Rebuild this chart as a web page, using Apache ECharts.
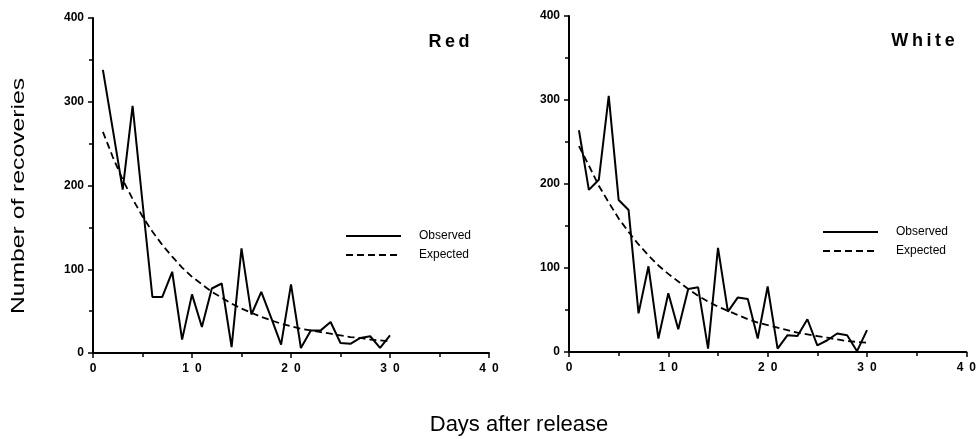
<!DOCTYPE html>
<html>
<head>
<meta charset="utf-8">
<script src="https://cdn.jsdelivr.net/npm/echarts@6/dist/echarts.min.js"></script>
<style>
  html, body { margin: 0; background: #fff; }
  #chart { width: 979px; height: 439px; }
</style>
</head>
<body>
<div id="chart"></div>
<script>
// days after release
const days = [1, 2, 3, 4, 5, 6, 7, 8, 9, 10, 11, 12, 13, 14, 15,
  16, 17, 18, 19, 20, 21, 22, 23, 24, 25, 26, 27, 28, 29, 30];

// Red tags
const redObserved = [338, 267, 195, 295, 180, 67, 67, 97, 16, 70, 31, 77, 83, 7, 125,
  46, 73, 42, 10, 82, 6, 27, 27, 37, 12, 11, 18, 20, 6, 21];
const redExpected = [264, 234, 207, 184, 163, 145, 129, 115, 102, 91, 82, 73, 66, 59, 53,
  48, 43, 39, 35, 32, 29, 27, 25, 23, 21, 19, 18, 16, 15, 14];

// White tags
const whiteObserved = [264, 193, 205, 305, 181, 169, 46, 102, 16, 70, 27, 75, 77, 4, 124,
  48, 65, 63, 16, 78, 4, 20, 19, 39, 8, 14, 22, 20, 1, 26];
const whiteExpected = [245, 222, 198, 178, 159, 143, 128, 115, 103, 93, 84, 75, 67, 60, 54,
  49, 44, 39, 35, 32, 29, 26, 23, 21, 19, 17, 15, 13, 12, 11];

const panelNames = ['Red', 'White'];
const legendNames = ['Observed', 'Expected'];

const pairs = (vals) => days.map((d, i) => [d, vals[i]]);

const font = 'Liberation Sans, Arial, Helvetica, sans-serif';

const xAxisBase = {
  type: 'value',
  min: 0,
  max: 40,
  interval: 10,
  splitLine: { show: false },
  axisLine: { onZero: false, lineStyle: { color: '#000', width: 2 } },
  axisTick: { length: 5, lineStyle: { color: '#000', width: 1.5 } },
  minorTick: { show: true, splitNumber: 2, length: 4, lineStyle: { color: '#000', width: 1.5 } },
  axisLabel: {
    margin: 10,
    color: '#000',
    fontFamily: font,
    fontWeight: 'bold',
    fontSize: 12,
    formatter: v => String(v).split('').join('\u2002')
  }
};

const yAxisBase = {
  type: 'value',
  min: 0,
  max: 400,
  interval: 100,
  splitLine: { show: false },
  axisLine: { show: true, onZero: false, lineStyle: { color: '#000', width: 2 } },
  axisTick: { show: true, length: 5, lineStyle: { color: '#000', width: 1.5 } },
  minorTick: { show: true, splitNumber: 2, length: 4, lineStyle: { color: '#000', width: 1.5 } },
  axisLabel: {
    margin: 9,
    color: '#000',
    fontFamily: font,
    fontWeight: 'bold',
    fontSize: 12
  }
};

const observedStyle = { color: '#000', width: 2, type: 'solid' };
const expectedStyle = { color: '#000', width: 1.8, type: [7, 4] };

const legendBase = {
  orient: 'vertical',
  data: legendNames,
  itemWidth: 55,
  itemHeight: 14,
  itemGap: 7,
  selectedMode: false,
  itemStyle: { opacity: 0 },
  textStyle: { color: '#000', fontFamily: font, fontSize: 12, padding: [0, 0, 0, 13] }
};

const chart = echarts.init(document.getElementById('chart'));

chart.setOption({
  animation: false,
  backgroundColor: '#fff',
  grid: [
    { left: 93, top: 18, width: 396, height: 335 },
    { left: 569, top: 16, width: 398, height: 336 }
  ],
  xAxis: [
    Object.assign({ gridIndex: 0 }, xAxisBase),
    Object.assign({ gridIndex: 1 }, xAxisBase)
  ],
  yAxis: [
    Object.assign({ gridIndex: 0 }, yAxisBase),
    Object.assign({ gridIndex: 1 }, yAxisBase)
  ],
  legend: [
    Object.assign({ left: 340, top: 225 }, legendBase),
    Object.assign({ left: 817, top: 221 }, legendBase)
  ],
  series: [
    { name: 'Observed', type: 'line', xAxisIndex: 0, yAxisIndex: 0, symbol: 'none',
      color: '#000', lineStyle: observedStyle, data: pairs(redObserved) },
    { name: 'Expected', type: 'line', xAxisIndex: 0, yAxisIndex: 0, symbol: 'none',
      color: '#000', lineStyle: expectedStyle, data: pairs(redExpected) },
    { name: 'Observed', type: 'line', xAxisIndex: 1, yAxisIndex: 1, symbol: 'none',
      color: '#000', lineStyle: observedStyle, data: pairs(whiteObserved) },
    { name: 'Expected', type: 'line', xAxisIndex: 1, yAxisIndex: 1, symbol: 'none',
      color: '#000', lineStyle: expectedStyle, data: pairs(whiteExpected) }
  ],
  graphic: [
    // panel titles, letter spaced like the original
    { type: 'text', x: 449, y: 42, style: { text: panelNames[0].split('').join('\u2009'),
      font: 'bold 18px ' + font, fill: '#000', align: 'center', verticalAlign: 'middle' } },
    { type: 'text', x: 923, y: 41, style: { text: panelNames[1].split('').join('\u2009'),
      font: 'bold 18px ' + font, fill: '#000', align: 'center', verticalAlign: 'middle' } },
    // shared axis titles
    { type: 'text', x: 19, y: 196, rotation: Math.PI / 2, scaleX: 1.3,
      style: { text: 'Number of recoveries', font: '19px ' + font, fill: '#000',
        align: 'center', verticalAlign: 'middle' } },
    { type: 'text', x: 519, y: 425,
      style: { text: 'Days after release', font: '22px ' + font, fill: '#000',
        align: 'center', verticalAlign: 'middle' } }
  ]
});
</script>
</body>
</html>
